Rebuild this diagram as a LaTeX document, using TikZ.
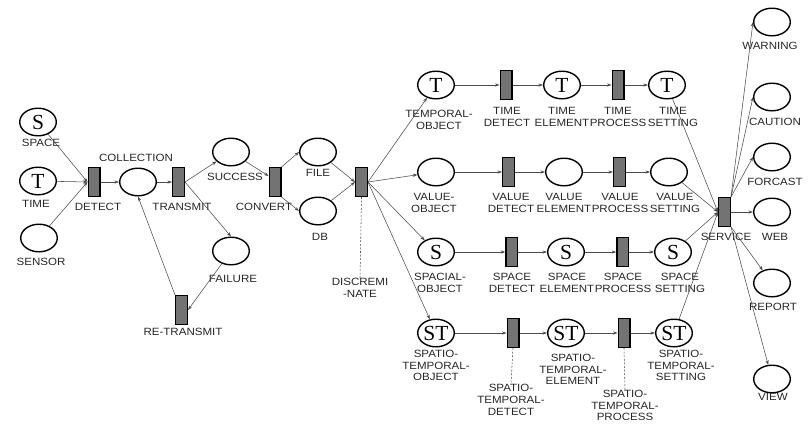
\documentclass[tikz,border=0pt]{standalone}
\usepackage{fontspec}
\setmainfont[FakeStretch=1.1]{Liberation Sans}
\newfontfamily\glyphfont{Liberation Serif}
\usetikzlibrary{arrows.meta,calc,shapes.geometric}

\begin{document}
\begin{tikzpicture}[x=1pt,y=-1pt,
  place/.style={ellipse, draw=black, line width=1.4pt, minimum width=36.6pt,
    minimum height=27.6pt, inner sep=0pt, font=\glyphfont\fontsize{21.5}{21.5}\selectfont},
  trans/.style={rectangle, draw=black, fill=black!55, line width=1.3pt,
    minimum width=11.7pt, minimum height=28.7pt, inner sep=0pt},
  lbl/.style={font=\fontsize{10.5}{12}\selectfont, align=center, text=black!85, inner sep=0pt},
  lbl3/.style={lbl, font=\fontsize{10.5}{11.8}\selectfont},
  arc/.style={-{Stealth[length=4.5pt,width=3.2pt]}, line width=0.55pt, draw=black!70},
  guide/.style={line width=0.55pt, draw=black!70, dash pattern=on 2pt off 1.6pt}
]
\useasboundingbox (0,0) rectangle (809,424);

% ---------- collection stage ----------
\node[place] (space)  at (38,122) {S};
\node[place] (time)   at (38,181) {T};
\node[place] (sensor) at (39,238) {};
\node[trans] (detect) at (94,182) {};
\node[place] (collection) at (138,182) {};
\node[trans] (transmit) at (178.5,182) {};
\node[place] (success) at (231,152) {};
\node[place] (failure) at (231,251) {};
\node[trans] (retransmit) at (181.5,310) {};
\node[trans] (convert) at (275,182) {};
\node[place] (file) at (318,152) {};
\node[place] (db)   at (318,211) {};
\node[trans] (discr) at (361.5,182) {};

\node[lbl] (lspace)  at (41,143) {SPACE};
\node[lbl] (ltime)   at (36,204) {TIME};
\node[lbl] (lsensor) at (41,262) {SENSOR};
\node[lbl] (ldetect) at (98,207) {DETECT};
\node[lbl] (lcoll)   at (136,158) {COLLECTION};
\node[lbl] (ltrans)  at (182,207) {TRANSMIT};
\node[lbl] (lsucc)   at (235,177) {SUCCESS};
\node[lbl] (lfail)   at (233,279) {FAILURE};
\node[lbl] (lretr)   at (183,332) {RE-TRANSMIT};
\node[lbl] (lconv)   at (264,207) {CONVERT};
\node[lbl] (lfile)   at (318,173) {FILE};
\node[lbl] (ldb)     at (320,237) {DB};
\node[lbl] (ldiscr)  at (360,288) {DISCREMI\\-NATE};

% ---------- temporal row ----------
\node[place] (tobj)  at (436,85) {T};
\node[trans] (tdet)  at (506,85) {};
\node[place] (telem) at (562,85) {T};
\node[trans] (tproc) at (618,85) {};
\node[place] (tset)  at (667,85) {T};
\node[lbl] at (439,119.5) {TEMPORAL-\\OBJECT};
\node[lbl] at (507,116.5) {TIME\\DETECT};
\node[lbl] at (562,116.5) {TIME\\ELEMENT};
\node[lbl] at (618,116.5) {TIME\\PROCESS};
\node[lbl] at (673,116.5) {TIME\\SETTING};

% ---------- value row ----------
\node[place] (vobj)  at (436,172) {};
\node[trans] (vdet)  at (508.5,172) {};
\node[place] (velem) at (564,172) {};
\node[trans] (vproc) at (619.5,172) {};
\node[place] (vset)  at (669,172) {};
\node[lbl] at (434,202.5) {VALUE-\\OBJECT};
\node[lbl] at (511,202.5) {VALUE\\DETECT};
\node[lbl] at (564,202.5) {VALUE\\ELEMENT};
\node[lbl] at (620,202.5) {VALUE\\PROCESS};
\node[lbl] at (675,202.5) {VALUE\\SETTING};

% ---------- spatial row ----------
\node[place] (sobj)  at (436,252) {S};
\node[trans] (sdet)  at (511.7,252) {};
\node[place] (selem) at (566,252) {S};
\node[trans] (sproc) at (622.7,252) {};
\node[place] (sset)  at (673,252) {S};
\node[lbl] at (440,283) {SPACIAL-\\OBJECT};
\node[lbl] at (512,283) {SPACE\\DETECT};
\node[lbl] at (567,283) {SPACE\\ELEMENT};
\node[lbl] at (623,283) {SPACE\\PROCESS};
\node[lbl] at (680,283) {SPACE\\SETTING};

% ---------- spatio-temporal row ----------
\node[place] (stobj)  at (436,333) {ST};
\node[trans] (stdet)  at (513,333) {};
\node[place] (stelem) at (566,333) {ST};
\node[trans] (stproc) at (624,333) {};
\node[place] (stset)  at (674,333) {ST};
\node[lbl3] at (436,365.5) {SPATIO-\\TEMPORAL-\\OBJECT};
\node[lbl3] (lstdet) at (511,400) {SPATIO-\\TEMPORAL-\\DETECT};
\node[lbl3] at (573,369.5) {SPATIO-\\TEMPORAL-\\ELEMENT};
\node[lbl3] (lstproc) at (625,405.5) {SPATIO-\\TEMPORAL-\\PROCESS};
\node[lbl3] at (681,365.5) {SPATIO-\\TEMPORAL-\\SETTING};

% ---------- service stage ----------
\node[trans] (service) at (724.5,212) {};
\node[lbl] at (726,237) {SERVICE};
\node[place] (warning) at (772,22)  {};
\node[place] (caution) at (772,97)  {};
\node[place] (forcast) at (772,157) {};
\node[place] (web)     at (772,212) {};
\node[place] (report)  at (772,283) {};
\node[place] (view)    at (772,379) {};
\node[lbl] at (770,46)  {WARNING};
\node[lbl] at (775,122) {CAUTION};
\node[lbl] at (775,182) {FORCAST};
\node[lbl] at (775,237) {WEB};
\node[lbl] at (773,307) {REPORT};
\node[lbl] at (773,397) {VIEW};

% ---------- arcs ----------
\draw[arc] (space)  -- (detect.west);
\draw[arc] (time)   -- (detect.west);
\draw[arc] (sensor) -- (detect.west);
\draw[arc] (detect) -- (collection);
\draw[arc] (collection) -- (transmit);
\draw[arc] (transmit.east) -- (success);
\draw[arc] (transmit.east) -- (failure.north);
\draw[arc] (failure) -- (retransmit.east);
\draw[arc] (retransmit.north west) -- (collection.south);
\draw[arc] (success) -- ($(convert.north west)!0.3!(convert.south west)$);
\draw[arc] (convert.north east) -- (file.west);
\draw[arc] (convert.south east) -- (db.west);
\draw[arc] (file) -- (discr.west);
\draw[arc] (db)   -- (discr.west);
\foreach \t in {tobj,vobj,sobj,stobj}
  \draw[arc] (discr.east) -- (\t);

\foreach \p in {t,v,s,st}{
  \draw[arc] (\p obj)  -- (\p det);
  \draw[arc] (\p det)  -- (\p elem);
  \draw[arc] (\p elem) -- (\p proc);
  \draw[arc] (\p proc) -- (\p set);
  \draw[arc] (\p set)  -- (service.west);
}

\draw[arc] (service.north east) -- (warning.west);
\draw[arc] (service.north east) -- (caution.west);
\draw[arc] (service.north east) -- (forcast.west);
\draw[arc] (service.east) -- (web.west);
\draw[arc] (service.south east) -- (report);
\draw[arc] (service.south east) -- (view);

% ---------- dashed annotations ----------
\draw[guide] (discr.south)  -- (ldiscr.north);
\draw[guide] (stdet.south)  -- (lstdet.north);
\draw[guide] (stproc.south) -- (lstproc.north);
\end{tikzpicture}
\end{document}
